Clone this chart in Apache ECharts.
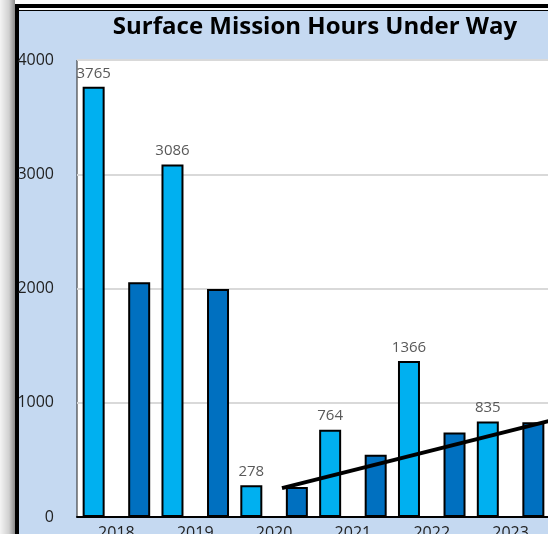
<!DOCTYPE html>
<html>
<head>
<meta charset="utf-8">
<script src="https://cdn.jsdelivr.net/npm/echarts@6/dist/echarts.min.js"></script>
<style>
    html, body { margin: 0; padding: 0; width: 548px; height: 534px; overflow: hidden; background: #fff; }
    .shadow { position: absolute; left: 0; top: 0; width: 15px; height: 534px;
        background: linear-gradient(to right, #f4f4f4, #d0d0d0 60%, #8a8a8a); }
    .frame { position: absolute; left: 15px; top: 4px; width: 600px; height: 600px; background: #000; }
    .gap { position: absolute; left: 19px; top: 8px; width: 600px; height: 2px; background: #fff; }
    .panel { position: absolute; left: 19px; top: 11px; width: 600px; height: 600px; background: #c5d9f1; }
    #chart { position: absolute; left: 0; top: 0; width: 548px; height: 534px; }
</style>
</head>
<body>
<div class="shadow"></div>
<div class="frame"></div>
<div class="gap"></div>
<div class="panel"></div>
<div id="chart"></div>
<script>
'use strict';

// chart values
var years = ['2018', '2019', '2020', '2021', '2022', '2023'];
var lightValues = [3765, 3086, 278, 764, 1366, 835];
var darkValues = [2055, 1995, 262, 544, 740, 830];
// trendline end points (x in category index units, y in hours)
var trendX = [2.1, 5.5];
var trendY = [253, 843];
var yTicks = [0, 1000, 2000, 3000, 4000];

var chart = echarts.init(document.getElementById('chart'));

var font = 'Open Sans';
var barBorder = { borderColor: '#000', borderWidth: 2 };

var options = {
    backgroundColor: 'transparent',
    animation: false,
    title: {
        text: 'Surface Mission Hours Under Way',
        left: 310,
        top: 10,
        textAlign: 'center',
        textStyle: { fontFamily: font, fontWeight: 'bold', fontSize: 24, color: '#000' }
    },
    grid: {
        left: 77,
        top: 60,
        width: 473,
        height: 457,
        outerBoundsMode: 'none',
        containLabel: false,
        show: true,
        backgroundColor: '#fff',
        borderColor: '#222',
        borderWidth: 1
    },
    xAxis: [{
        type: 'category',
        data: years,
        axisLine: { lineStyle: { color: '#000', width: 2 } },
        axisTick: { show: false },
        axisLabel: { fontFamily: font, fontSize: 16, color: '#222', margin: 8 }
    }, {
        type: 'value',
        min: -0.5,
        max: 5.5,
        show: false
    }],
    yAxis: {
        type: 'value',
        min: yTicks[0],
        max: yTicks[yTicks.length - 1],
        interval: 1000,
        axisLine: { show: false },
        axisTick: { show: false },
        axisLabel: {
            fontFamily: font, fontSize: 16, color: '#222', margin: 23,
            formatter: function (v) { return String(v); }
        },
        splitLine: { lineStyle: { color: '#d9d9d9', width: 2 } }
    },
    series: [{
        type: 'bar',
        data: lightValues,
        barWidth: 22,
        barGap: '107%',
        itemStyle: Object.assign({ color: '#00b0f0' }, barBorder),
        label: {
            show: true,
            position: 'top',
            distance: 6,
            fontFamily: font,
            fontSize: 15,
            color: '#595959'
        }
    }, {
        type: 'bar',
        data: darkValues,
        barWidth: 22,
        barGap: '107%',
        itemStyle: Object.assign({ color: '#0070c0' }, barBorder)
    }, {
        type: 'line',
        xAxisIndex: 1,
        data: trendX.map(function (x, i) { return [x, trendY[i]]; }),
        showSymbol: false,
        symbol: 'none',
        z: 5,
        lineStyle: { color: '#000', width: 4 }
    }]
};

chart.setOption(options);
</script>
</body>
</html>
